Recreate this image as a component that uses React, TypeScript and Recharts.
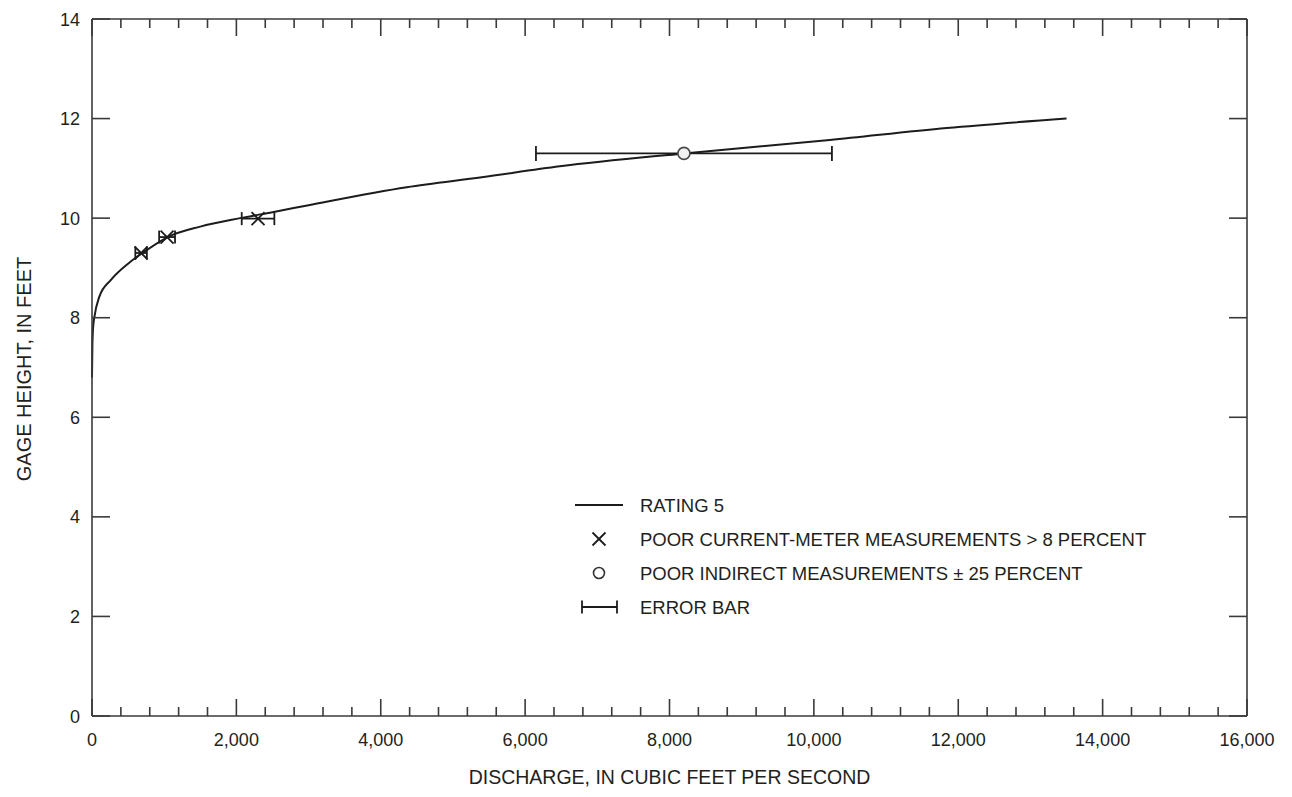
import React from "react";
import { ComposedChart, Line, Scatter, XAxis, YAxis, ErrorBar } from "recharts";

// rating curve (discharge cfs, gage height ft)
const ratingQ = [0, 5, 15, 32, 101, 263, 512, 700, 1050, 1500, 2050, 2500, 3000, 4360, 5400, 6480, 8200, 10220, 11840, 13500];
const ratingH = [6.8, 7.4, 7.8, 8.0, 8.42, 8.76, 9.1, 9.3, 9.62, 9.83, 10.0, 10.12, 10.26, 10.62, 10.82, 11.04, 11.3, 11.57, 11.81, 12.0];

// poor current-meter measurements
const meterQ = [680, 1040, 2300];
const meterH = [9.3, 9.62, 9.99];
const meterErr = [80, 110, 226];

// poor indirect measurement
const indirectQ = [8200];
const indirectH = [11.3];
const indirectErr = [2050];

const xMajorTicks = [0, 2000, 4000, 6000, 8000, 10000, 12000, 14000, 16000];
const xTicks = xMajorTicks.flatMap((t, i) =>
  i === xMajorTicks.length - 1 ? [t] : [t, t + 400, t + 800, t + 1200, t + 1600]
);
const yTicks = [0, 2, 4, 6, 8, 10, 12, 14];

const legendLabels = [
  "RATING 5",
  "POOR CURRENT-METER MEASUREMENTS > 8 PERCENT",
  "POOR INDIRECT MEASUREMENTS \u00b1 25 PERCENT",
  "ERROR BAR",
];

const ratingData = ratingQ.map((q, i) => ({ q, h: ratingH[i] }));
const meterData = meterQ.map((q, i) => ({ q, h: meterH[i], err: meterErr[i] }));
const indirectData = indirectQ.map((q, i) => ({ q, h: indirectH[i], err: indirectErr[i] }));

const AXIS = "#3a3a3a";
const INK = "#1c1c1c";
const TEXT = "#231f20";
const FONT = "'Liberation Sans', Arial, Helvetica, sans-serif";

const BottomTick = (props: any) => {
  const { x, y, payload } = props;
  const v = payload.value;
  const major = v % 2000 === 0;
  return (
    <g>
      <line x1={x} y1={y} x2={x} y2={y - (major ? 17 : 9)} stroke={AXIS} strokeWidth={1.6} />
      {major && (
        <text x={x} y={y + 30} textAnchor="middle" fontSize={18} fill={TEXT} fontFamily={FONT}>
          {v.toLocaleString("en-US")}
        </text>
      )}
    </g>
  );
};

const TopTick = (props: any) => {
  const { x, y, payload } = props;
  const major = payload.value % 2000 === 0;
  return <line x1={x} y1={y} x2={x} y2={y + (major ? 17 : 9)} stroke={AXIS} strokeWidth={1.6} />;
};

const LeftTick = (props: any) => {
  const { x, y, payload } = props;
  return (
    <g>
      <line x1={x} y1={y} x2={x + 18} y2={y} stroke={AXIS} strokeWidth={1.6} />
      <text x={x - 12} y={y + 6.5} textAnchor="end" fontSize={18} fill={TEXT} fontFamily={FONT}>
        {payload.value}
      </text>
    </g>
  );
};

const RightTick = (props: any) => {
  const { x, y } = props;
  return <line x1={x} y1={y} x2={x - 18} y2={y} stroke={AXIS} strokeWidth={1.6} />;
};

const XMark = (props: any) => {
  const { cx, cy } = props;
  const s = 6.5;
  return (
    <g stroke={INK} strokeWidth={1.8}>
      <line x1={cx - s} y1={cy - s} x2={cx + s} y2={cy + s} />
      <line x1={cx - s} y1={cy + s} x2={cx + s} y2={cy - s} />
    </g>
  );
};

const OMark = (props: any) => {
  const { cx, cy } = props;
  return <circle cx={cx} cy={cy} r={6} fill="#f2f2f2" stroke="#4a4a4a" strokeWidth={1.6} />;
};

const NoMark = () => null;

export default function App() {
  const rowY = [505, 539, 573, 607];
  return (
    <div style={{ position: "absolute", left: 0, top: 0, width: 1292, height: 797, background: "#fff" }}>
      <ComposedChart
        width={1292}
        height={797}
        margin={{ top: 9, right: 35, bottom: 51, left: 32 }}
      >
        <XAxis
          xAxisId="bottom"
          dataKey="q"
          type="number"
          domain={[0, 16000]}
          ticks={xTicks}
          interval={0}
          height={30}
          tickSize={0}
          tickMargin={0}
          tickLine={false}
          axisLine={{ stroke: AXIS, strokeWidth: 1.6 }}
          tick={<BottomTick />}
        />
        <XAxis
          xAxisId="top"
          orientation="top"
          dataKey="q"
          type="number"
          domain={[0, 16000]}
          ticks={xTicks}
          interval={0}
          height={10}
          tickSize={0}
          tickMargin={0}
          tickLine={false}
          axisLine={{ stroke: AXIS, strokeWidth: 1.6 }}
          tick={<TopTick />}
        />
        <YAxis
          yAxisId="left"
          type="number"
          domain={[0, 14]}
          ticks={yTicks}
          interval={0}
          width={60}
          tickSize={0}
          tickMargin={0}
          tickLine={false}
          axisLine={{ stroke: AXIS, strokeWidth: 1.6 }}
          tick={<LeftTick />}
        />
        <YAxis
          yAxisId="right"
          orientation="right"
          type="number"
          domain={[0, 14]}
          ticks={yTicks}
          interval={0}
          width={10}
          tickSize={0}
          tickMargin={0}
          tickLine={false}
          axisLine={{ stroke: AXIS, strokeWidth: 1.6 }}
          tick={<RightTick />}
        />
        <Line
          xAxisId="bottom"
          yAxisId="left"
          data={ratingData}
          dataKey="h"
          type="monotone"
          stroke={INK}
          strokeWidth={2}
          dot={false}
          isAnimationActive={false}
        />
        <Scatter
          xAxisId="bottom"
          yAxisId="left"
          data={meterData}
          dataKey="h"
          shape={<XMark />}
          isAnimationActive={false}
        >
          <ErrorBar dataKey="err" direction="x" width={6.5} stroke={INK} strokeWidth={1.8} />
        </Scatter>
        {/* error bar for the indirect measurement, on the mirrored top/right axes (same scales) */}
        <Scatter
          xAxisId="top"
          yAxisId="right"
          data={indirectData}
          dataKey="h"
          shape={<NoMark />}
          isAnimationActive={false}
        >
          <ErrorBar dataKey="err" direction="x" width={7.5} stroke={INK} strokeWidth={1.8} />
        </Scatter>
        <Scatter
          xAxisId="bottom"
          yAxisId="left"
          data={indirectData}
          dataKey="h"
          shape={<OMark />}
          isAnimationActive={false}
        />
      </ComposedChart>
      <svg
        width={1292}
        height={797}
        style={{ position: "absolute", left: 0, top: 0, pointerEvents: "none" }}
        fontFamily={FONT}
      >
        <text x={669.5} y={784} textAnchor="middle" fontSize={19.5} fill={TEXT}>
          DISCHARGE, IN CUBIC FEET PER SECOND
        </text>
        <text
          transform="translate(31,369) rotate(-90)"
          textAnchor="middle"
          fontSize={20}
          fill={TEXT}
        >
          GAGE HEIGHT, IN FEET
        </text>
        {/* legend */}
        <line x1={575} y1={rowY[0]} x2={623} y2={rowY[0]} stroke={INK} strokeWidth={1.8} />
        <XMark cx={599} cy={rowY[1]} />
        <circle cx={599} cy={rowY[2]} r={5.5} fill="#fff" stroke="#333" strokeWidth={1.6} />
        <g stroke={INK} strokeWidth={1.8}>
          <line x1={582} y1={rowY[3]} x2={617} y2={rowY[3]} />
          <line x1={582} y1={rowY[3] - 6.5} x2={582} y2={rowY[3] + 6.5} />
          <line x1={617} y1={rowY[3] - 6.5} x2={617} y2={rowY[3] + 6.5} />
        </g>
        {legendLabels.map((label, i) => (
          <text key={label} x={640} y={rowY[i] + 6.5} fontSize={18.5} fill={TEXT}>
            {label}
          </text>
        ))}
      </svg>
    </div>
  );
}
